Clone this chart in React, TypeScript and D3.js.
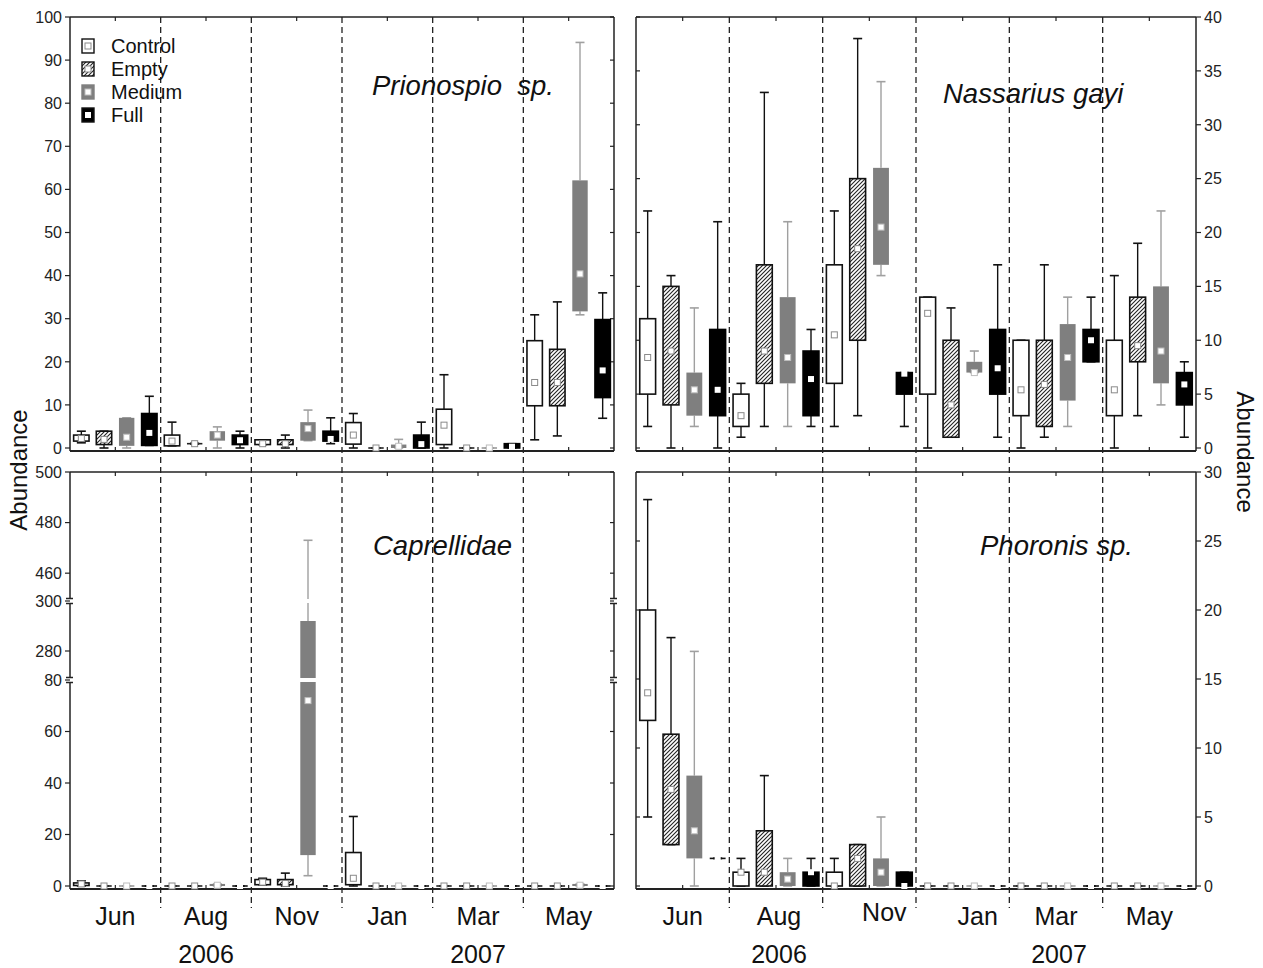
import React from "react";
import * as d3 from "d3";

type Box = [number, number, number, number, number]; // min, q1, mid, q3, max

const months = ["Jun", "Aug", "Nov", "Jan", "Mar", "May"];
const treatments = ["Control", "Empty", "Medium", "Full"];
const years = [
  { label: "2006", month: "Aug" },
  { label: "2007", month: "Mar" },
];

const Z: Box = [0, 0, 0, 0, 0];

// Prionospio sp. (order per month: Control, Empty, Medium, Full)
const prionospio: Box[] = [
  [1.2, 1.6, 2.2, 3.0, 3.9], [0, 0.8, 2.0, 3.9, 3.9], [0, 0.5, 2.5, 7.0, 7.0], [0.6, 0.6, 3.5, 8.0, 12],
  [0.5, 0.5, 1.6, 3.0, 6.0], [0.9, 0.9, 1.0, 1.1, 1.1], [0, 1.7, 3.0, 3.9, 4.9], [0, 0.8, 1.8, 3.0, 3.9],
  [0.8, 0.8, 1.0, 1.9, 1.9], [0, 0.8, 1.0, 1.9, 3.0], [1.7, 1.7, 4.5, 6.0, 8.8], [1.0, 1.6, 2.1, 3.9, 7.0],
  [0, 0.9, 3.0, 5.9, 8.0], Z, [0, 0, 0.4, 0.8, 2.0], [0, 0, 0.9, 3.0, 6.0],
  [0, 0.8, 5.3, 9.0, 17], Z, Z, [0, 0, 0.3, 1.0, 1.0],
  [1.9, 9.8, 15.2, 24.9, 30.9], [2.8, 9.8, 15.2, 22.9, 33.9], [30.9, 31.7, 40.4, 62.1, 94.1], [6.9, 11.7, 18.0, 29.8, 36.0],
];

// Nassarius gayi
const nassarius: Box[] = [
  [2, 5, 8.4, 12, 22], [0, 4, 9, 15, 16], [2, 3, 5.4, 7, 13], [0, 3, 5.4, 11, 21],
  [1, 2, 3, 5, 6], [2, 6, 9, 17, 33], [2, 6, 8.4, 14, 21], [2, 3, 6.4, 9, 11],
  [2, 6, 10.5, 17, 22], [3, 10, 18.5, 25, 38], [16, 17, 20.5, 26, 34], [2, 5, 6.9, 7, 7],
  [0, 5, 12.5, 14, 14], [1, 1, 4, 10, 13], [7, 7, 7, 8, 9], [1, 5, 7.4, 11, 17],
  [0, 3, 5.4, 10, 10], [1, 2, 5.9, 10, 17], [2, 4.4, 8.4, 11.5, 14], [8, 8, 10, 11, 14],
  [0, 3, 5.4, 10, 16], [3, 8, 9.5, 14, 19], [4, 6, 9, 15, 22], [1, 4, 5.9, 7, 8],
];

// Caprellidae
const caprellidae: Box[] = [
  [0, 0.2, 0.8, 1.2, 2], Z, Z, Z,
  Z, Z, [0, 0, 0.3, 0.8, 0.8], Z,
  [0.5, 0.5, 1.5, 2.5, 3], [0, 0.5, 1, 2.5, 5], [4, 12, 72, 292, 473], Z,
  [0, 0.5, 3, 13, 27], Z, Z, Z,
  Z, Z, Z, Z,
  Z, Z, [0, 0, 0.3, 0.8, 0.8], Z,
];

// Phoronis sp.
const phoronis: Box[] = [
  [5, 12, 14, 20, 28], [3, 3, 7, 11, 18], [0, 2, 4, 8, 17], [2, 2, 2, 2, 2],
  [0, 0, 1, 1, 2], [0, 0, 1, 4, 8], [0, 0, 0.5, 1, 2], [0, 0, 1, 1, 2],
  [0, 0, 0, 1, 2], [0, 0, 2, 3, 3], [0, 0, 1, 2, 5], [0, 0, 0, 1, 1],
  Z, Z, Z, Z,
  Z, Z, Z, Z,
  Z, Z, Z, Z,
];

const prionTicks = [0, 10, 20, 30, 40, 50, 60, 70, 80, 90, 100];
const nassTicks = [0, 5, 10, 15, 20, 25, 30, 35, 40];
const caprTicks = [0, 20, 40, 60, 80, 280, 300, 460, 480, 500];
const phorTicks = [0, 5, 10, 15, 20, 25, 30];

const FONT = "'Liberation Sans', Arial, Helvetica, sans-serif";

const styles: Record<string, any> = {
  Control: { fill: "#fff", stroke: "#111", whisker: "#111", mFill: "#fff", mStroke: "#8a8a8a", flat: "#222" },
  Empty: { fill: "url(#hatch)", stroke: "#111", whisker: "#111", mFill: "#fff", mStroke: "#8a8a8a", flat: "#222" },
  Medium: { fill: "#7f7f7f", stroke: "none", whisker: "#a0a0a0", mFill: "#fff", mStroke: "#bdbdbd", flat: "#9a9a9a" },
  Full: { fill: "#000", stroke: "#000", whisker: "#111", mFill: "#fff", mStroke: "none", flat: "#111" },
};

interface PanelCfg {
  key: string;
  data: Box[];
  x0: number;
  x1: number;
  yTop: number;
  yBot: number;
  y: (v: number) => number;
  ticks: number[];
  side: "left" | "right";
  title: string;
  titleX: number;
  titleY: number;
  breaks?: number[];
}

function Panel({ p }: { p: PanelCfg }) {
  const groups = d3.scaleBand<string>().domain(months).range([p.x0, p.x1]);
  const slots = d3
    .scaleBand<string>()
    .domain(treatments)
    .range([0, groups.bandwidth()])
    .paddingInner(0.32)
    .paddingOuter(0.16);
  const bw = slots.bandwidth();
  const capW = 9;
  const breaks = p.breaks || [];
  const gapH = 2.5;

  const borderSegs: [number, number][] = [];
  {
    const ys = [p.yBot, ...breaks.flatMap((b) => [b + gapH, b - gapH]), p.yTop];
    for (let i = 0; i < ys.length; i += 2) borderSegs.push([ys[i], ys[i + 1]]);
  }
  const axisX = p.side === "left" ? p.x0 : p.x1;
  const innerX = p.side === "left" ? p.x1 : p.x0;
  const outDir = p.side === "left" ? -1 : 1;

  return (
    <g>
      <line x1={p.x0} x2={p.x1} y1={p.yTop} y2={p.yTop} stroke="#222" strokeWidth={1.5} />
      <line x1={p.x0} x2={p.x1} y1={p.yBot} y2={p.yBot} stroke="#222" strokeWidth={1.8} />
      {[p.x0, p.x1].map((x) =>
        borderSegs.map(([a, b], i) => (
          <line key={`${x}-${i}`} x1={x} x2={x} y1={a} y2={b} stroke="#222" strokeWidth={1.5} />
        ))
      )}
      {[p.x0, p.x1].map((x) =>
        breaks.flatMap((b) => [b + gapH, b - gapH]).map((yy, i) => (
          <line key={`bk${x}-${i}`} x1={x - 4} x2={x + 3} y1={yy} y2={yy} stroke="#222" strokeWidth={1.5} />
        ))
      )}
      {months.map((m) => {
        const cx = (groups(m) as number) + groups.bandwidth() / 2;
        return (
          <g key={m}>
            <line x1={cx} x2={cx} y1={p.yTop} y2={p.yTop + 4} stroke="#222" strokeWidth={1.2} />
            <line x1={cx} x2={cx} y1={p.yBot} y2={p.yBot - 4} stroke="#222" strokeWidth={1.2} />
          </g>
        );
      })}
      {p.ticks.map((t) => {
        const yy = p.y(t);
        return (
          <g key={t}>
            <line x1={axisX} x2={axisX + outDir * 5} y1={yy} y2={yy} stroke="#222" strokeWidth={1.2} />
            <line x1={innerX} x2={innerX + outDir * 4} y1={yy} y2={yy} stroke="#222" strokeWidth={1.2} />
            <text
              x={axisX + outDir * 8}
              y={yy}
              dy="0.36em"
              textAnchor={p.side === "left" ? "end" : "start"}
              fontSize={16}
              fill="#222"
            >
              {t}
            </text>
          </g>
        );
      })}
      {p.data.map((d, i) => {
        const m = months[Math.floor(i / 4)];
        const t = treatments[i % 4];
        const s = styles[t];
        const cx = (groups(m) as number) + (slots(t) as number) + bw / 2;
        const [mn, q1, md, q3, mx] = d;
        const yMin = p.y(mn), yQ1 = p.y(q1), yMd = p.y(md), yQ3 = p.y(q3), yMax = p.y(mx);
        const flat = yQ1 - yQ3 < 1.2;
        const ms = 6;
        return (
          <g key={i}>
            <line x1={cx} x2={cx} y1={yMax} y2={yQ3} stroke={s.whisker} strokeWidth={1.4} />
            <line x1={cx} x2={cx} y1={yQ1} y2={yMin} stroke={s.whisker} strokeWidth={1.4} />
            <line x1={cx - capW / 2} x2={cx + capW / 2} y1={yMax} y2={yMax} stroke={s.whisker} strokeWidth={1.6} />
            <line x1={cx - capW / 2} x2={cx + capW / 2} y1={yMin} y2={yMin} stroke={s.whisker} strokeWidth={1.6} />
            {flat ? (
              <line x1={cx - bw / 2} x2={cx + bw / 2} y1={(yQ1 + yQ3) / 2} y2={(yQ1 + yQ3) / 2} stroke={s.flat} strokeWidth={1.6} />
            ) : (
              <rect
                x={cx - bw / 2}
                y={yQ3}
                width={bw}
                height={yQ1 - yQ3}
                fill={s.fill}
                stroke={s.stroke}
                strokeWidth={1.6}
              />
            )}
            {breaks.map((b) =>
              b > yMax && b < yMin ? (
                <rect key={b} x={cx - bw / 2 - 1} y={b - 2} width={bw + 2} height={4} fill="#fff" />
              ) : null
            )}
            <rect
              x={cx - ms / 2}
              y={yMd - ms / 2}
              width={ms}
              height={ms}
              fill={s.mFill}
              stroke={s.mStroke}
              strokeWidth={1}
            />
          </g>
        );
      })}
      <text
        x={p.titleX}
        y={p.titleY}
        fontSize={27.5}
        fontStyle="italic"
        fill="#111"
        style={{ whiteSpace: "pre" }}
      >
        {p.title}
      </text>
    </g>
  );
}

export default function App() {
  const L = { x0: 70, x1: 614 };
  const R = { x0: 636, x1: 1196 };

  const prionY = d3.scaleLinear().domain([0, 100]).range([448, 17]);
  const nassY = d3.scaleLinear().domain([0, 40]).range([448, 17]);
  const caprY = d3
    .scaleLinear()
    .domain([0, 80, 268.4, 300, 449, 500])
    .range([886, 680, 680, 601, 601, 472]);
  const phorY = d3.scaleLinear().domain([0, 30]).range([886, 472]);

  const panels: PanelCfg[] = [
    { key: "pr", data: prionospio, ...L, yTop: 17, yBot: 451, y: prionY, ticks: prionTicks, side: "left", title: "Prionospio  sp.", titleX: 372, titleY: 95 },
    { key: "na", data: nassarius, ...R, yTop: 17, yBot: 451, y: nassY, ticks: nassTicks, side: "right", title: "Nassarius gayi", titleX: 943, titleY: 103 },
    { key: "ca", data: caprellidae, ...L, yTop: 472, yBot: 889, y: caprY, ticks: caprTicks, side: "left", title: "Caprellidae", titleX: 373, titleY: 555, breaks: [680, 601] },
    { key: "ph", data: phoronis, ...R, yTop: 472, yBot: 889, y: phorY, ticks: phorTicks, side: "right", title: "Phoronis sp.", titleX: 980, titleY: 555 },
  ];

  const leftGroups = d3.scaleBand<string>().domain(months).range([L.x0, L.x1]);
  const rightGroups = d3.scaleBand<string>().domain(months).range([R.x0, R.x1]);
  const rightDx = [0, 3, 15, 15, 0, 0];
  const rightDy = [0, 0, -4, 0, 0, 0];

  const legendStep = 23;
  const legendSym = (t: string, x: number, yc: number) => {
    const s = styles[t];
    const w = 12, h = 14;
    return (
      <g key={t}>
        <rect x={x} y={yc - h / 2} width={w} height={h} fill={s.fill} stroke={t === "Medium" ? "#7f7f7f" : "#111"} strokeWidth={1.4} />
        <rect x={x + w / 2 - 3} y={yc - 3} width={6} height={6} fill={s.mFill} stroke={s.mStroke} strokeWidth={1} />
      </g>
    );
  };

  return (
    <svg
      width={1263}
      height={968}
      style={{ position: "absolute", left: 0, top: 0, background: "#fff" }}
      fontFamily={FONT}
    >
      <defs>
        <pattern id="hatch" patternUnits="userSpaceOnUse" width={4} height={4}>
          <rect width={4} height={4} fill="#fff" />
          <path d="M-1,1 l2,-2 M0,4 l4,-4 M3,5 l2,-2" stroke="#222" strokeWidth={1.1} />
        </pattern>
      </defs>
      <rect width={1263} height={968} fill="#fff" />

      {[leftGroups, rightGroups].map((g, gi) =>
        months.slice(1).map((m) => {
          const x = g(m) as number;
          return (
            <line key={`${gi}-${m}`} x1={x} x2={x} y1={17} y2={908} stroke="#222" strokeWidth={1.3} strokeDasharray="6,4" />
          );
        })
      )}

      {panels.map((p) => (
        <Panel key={p.key} p={p} />
      ))}

      {treatments.map((t, i) => (
        <g key={t}>
          {legendSym(t, 82, 46 + i * legendStep)}
          <text x={111} y={53 + i * legendStep} fontSize={20} fill="#111">
            {t}
          </text>
        </g>
      ))}

      {months.map((m) => (
        <text key={`l${m}`} x={(leftGroups(m) as number) + leftGroups.bandwidth() / 2} y={925} fontSize={25} textAnchor="middle" fill="#111">
          {m}
        </text>
      ))}
      {months.map((m, i) => (
        <text key={`r${m}`} x={(rightGroups(m) as number) + rightGroups.bandwidth() / 2 + rightDx[i]} y={925 + rightDy[i]} fontSize={25} textAnchor="middle" fill="#111">
          {m}
        </text>
      ))}
      {years.map((yr) => (
        <g key={yr.label}>
          <text x={(leftGroups(yr.month) as number) + leftGroups.bandwidth() / 2} y={963} fontSize={25} textAnchor="middle" fill="#111">
            {yr.label}
          </text>
          <text x={(rightGroups(yr.month) as number) + rightGroups.bandwidth() / 2 + 3} y={963} fontSize={25} textAnchor="middle" fill="#111">
            {yr.label}
          </text>
        </g>
      ))}

      <text transform="translate(27,470) rotate(-90)" fontSize={24} textAnchor="middle" fill="#111">
        Abundance
      </text>
      <text transform="translate(1237,452) rotate(90)" fontSize={24} textAnchor="middle" fill="#111">
        Abundance
      </text>
    </svg>
  );
}
